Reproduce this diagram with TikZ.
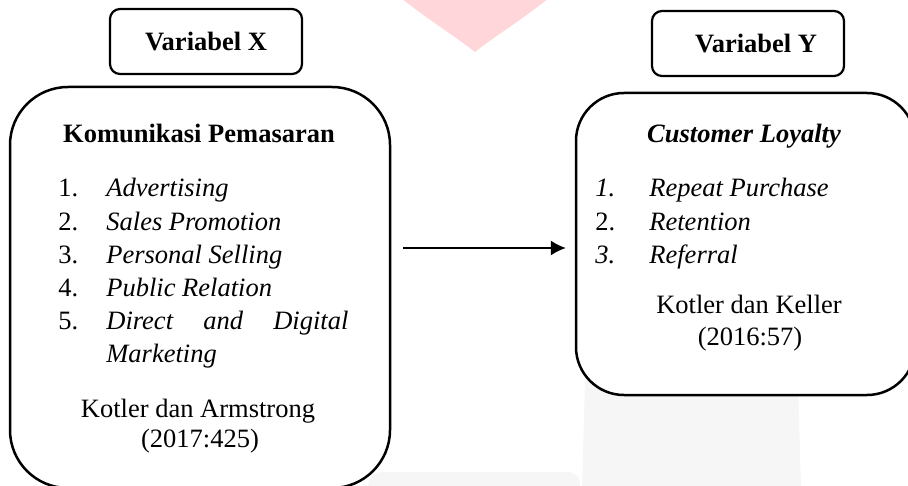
\documentclass[tikz,border=0pt]{standalone}
\usepackage{fontspec}
\setmainfont{Liberation Serif}
\usetikzlibrary{arrows.meta}
\definecolor{wmpink}{RGB}{255,214,218}
\definecolor{wmgrey}{RGB}{246,246,246}

\begin{document}
\begin{tikzpicture}[x=0.5pt, y=-0.5pt, >={Latex[length=7.5pt,width=7.5pt]},
	font=\fontsize{13.25pt}{16.5pt}\selectfont,
	varbox/.style={draw, fill=white, line width=1.1pt, rounded corners=5pt, minimum width=96pt, minimum height=32.5pt, font=\fontsize{13.25pt}{16.5pt}\selectfont\bfseries},
	mainbox/.style={draw, fill=white, line width=1.25pt},
	txt/.style={inner sep=0pt, anchor=base},
	lft/.style={inner sep=0pt, anchor=base west}]
			% Frame of the page
			\clip (0,0) rectangle (908,486);
			
			% Draw the watermark
			\fill[wmpink] (396,-6) .. controls (428,20) and (455,36) .. (475,52) .. controls (495,36) and (522,20) .. (554,-6) -- cycle;
			\fill[wmgrey] (585,380) -- (798,380) -- (801,490) -- (582,490) -- cycle;
			\fill[wmgrey, rounded corners=6pt] (366,500) -- (370,472) -- (580,472) -- (580,500) -- cycle;
			
			% Draw the variable boxes
			\node[varbox] (vx) at (206,41.5) {Variabel X};
			\node[varbox] (vy) at (748,43.5) {\hspace*{8pt}Variabel Y};
			
			% Draw the big boxes
			\node[mainbox, minimum width=190pt, minimum height=200.5pt, rounded corners=29pt] (kom) at (200,287.5) {};
			\node[mainbox, minimum width=169.5pt, minimum height=151pt, rounded corners=24pt] (cl) at (745.5,244) {};
			
			% Left box text
			\node[txt] (komt) at (199,143) {\bfseries Komunikasi Pemasaran};
			\foreach \itm [count=\i] in {Advertising,Sales Promotion,Personal Selling,Public Relation}
			{
				\node[lft] (xn\i) at (58,{197+33*(\i-1)}) {\i.};
				\node[lft] (xi\i) at (106,{197+33*(\i-1)}) {\itshape\itm};
			}
			\node[lft] (xn5) at (58,329) {5.};
			\node[lft] (xi5) at (106,329) {\makebox[121pt]{\itshape Direct\hfill and\hfill Digital}};
			\node[lft] (xi6) at (106,362) {\itshape Marketing};
			\node[txt] (xsrc) at (198,417) {Kotler dan Armstrong};
			\node[txt] (xyr) at (200,447) {(2017:425)};
			
			% Right box text
			\node[txt] (clt) at (744,143) {\bfseries\itshape Customer Loyalty};
			\node[lft] (yn1) at (595,197) {\itshape 1.};
			\node[lft] (yi1) at (649,197) {\itshape Repeat Purchase};
			\node[lft] (yn2) at (595,230) {2.};
			\node[lft] (yi2) at (649,230) {\itshape Retention};
			\node[lft] (yn3) at (595,263) {\itshape 3.};
			\node[lft] (yi3) at (649,263) {\itshape Referral};
			\node[txt] (ysrc) at (749,313) {Kotler dan Keller};
			\node[txt] (yyr) at (750,345) {(2016:57)};
			
			% Draw the arrow
			\coordinate (arrtip) at ([yshift=-2pt]cl.west);
			\draw[->, line width=0.65pt, shorten <=6pt, shorten >=4.5pt] (kom.east |- arrtip) -- (arrtip);
			
		\end{tikzpicture}
\end{document}
